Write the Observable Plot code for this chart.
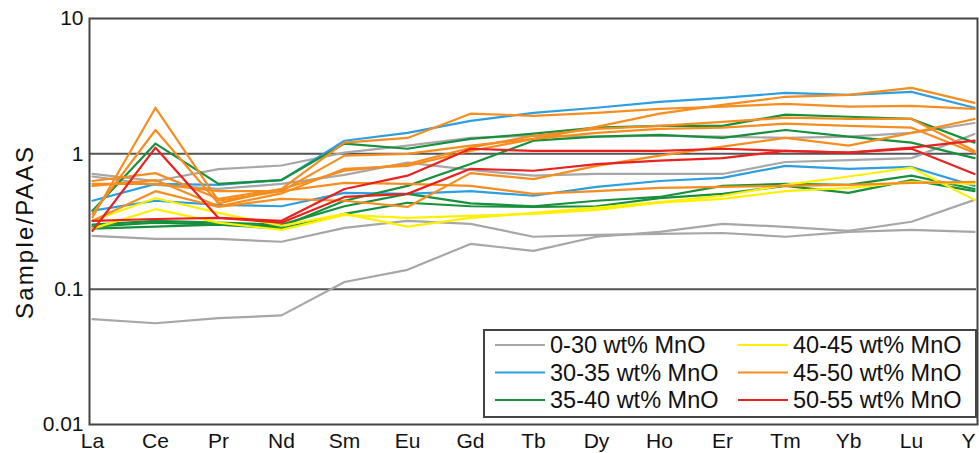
<!DOCTYPE html>
<html><head><meta charset="utf-8">
<script src="https://cdn.jsdelivr.net/npm/d3@7"></script>
<script src="https://cdn.jsdelivr.net/npm/@observablehq/plot@0.6"></script>
<style>body{margin:0;background:#fff;} svg{display:block;}</style>
</head><body><div id="chart"></div>
<script>
const elements = ["La","Ce","Pr","Nd","Sm","Eu","Gd","Tb","Dy","Ho","Er","Tm","Yb","Lu","Y"];
const groupLabels = ["0-30 wt% MnO","30-35 wt% MnO","35-40 wt% MnO","40-45 wt% MnO","45-50 wt% MnO","50-55 wt% MnO"];
const groupColors = ["#a7a7a7","#2c9fe0","#17903b","#fff000","#f68d1f","#e9211f"];
const yTicks = [0.01, 0.1, 1, 10];
const gridValues = [0.1, 1];
const yLabel = "Sample/PAAS";

// 0-30 wt% MnO
const gray1 = [0.060,0.056,0.061,0.064,0.113,0.139,0.216,0.192,0.244,0.265,0.304,0.289,0.270,0.315,0.457];
const gray2 = [0.248,0.235,0.235,0.224,0.284,0.320,0.304,0.244,0.252,0.256,0.260,0.244,0.265,0.274,0.265];
const gray3 = [0.71,0.63,0.77,0.82,1.02,1.15,1.31,1.36,1.34,1.36,1.34,1.31,1.34,1.43,1.69];
const gray4 = [0.68,0.59,0.55,0.60,0.70,0.86,0.76,0.69,0.71,0.71,0.71,0.87,0.90,0.93,1.40];
// 30-35 wt% MnO
const blue1 = [0.45,0.60,0.59,0.64,1.25,1.43,1.75,2.01,2.19,2.42,2.59,2.82,2.73,2.87,2.19];
const blue2 = [0.38,0.45,0.42,0.41,0.515,0.506,0.53,0.49,0.57,0.63,0.665,0.815,0.775,0.80,0.58];
// 35-40 wt% MnO
const green1 = [0.38,1.19,0.60,0.64,1.19,1.09,1.29,1.41,1.56,1.61,1.61,1.95,1.88,1.81,1.21];
const green2 = [0.29,0.31,0.30,0.29,0.45,0.58,0.84,1.25,1.34,1.38,1.31,1.50,1.34,1.21,0.93];
const green3 = [0.30,0.32,0.31,0.30,0.41,0.506,0.43,0.41,0.45,0.48,0.58,0.60,0.59,0.69,0.55];
const green4 = [0.28,0.29,0.30,0.28,0.36,0.435,0.41,0.405,0.41,0.47,0.506,0.58,0.515,0.64,0.53];
// 40-45 wt% MnO
const yellow1 = [0.32,0.47,0.366,0.294,0.36,0.29,0.336,0.366,0.40,0.44,0.49,0.59,0.68,0.79,0.457];
const yellow2 = [0.28,0.39,0.31,0.274,0.354,0.336,0.348,0.36,0.385,0.435,0.465,0.53,0.56,0.62,0.60];
// 45-50 wt% MnO
const orange1 = [0.34,2.19,0.45,0.53,0.97,1.0,1.15,1.29,1.58,1.98,2.3,2.64,2.73,3.07,2.38];
const orange2 = [0.36,1.5,0.43,0.55,1.21,1.31,1.98,1.91,2.01,2.15,2.23,2.34,2.23,2.26,2.15];
const orange3 = [0.63,0.72,0.465,0.55,0.75,0.84,1.11,1.36,1.53,1.61,1.72,1.85,1.81,1.81,1.05];
const orange4 = [0.58,0.64,0.41,0.51,0.775,0.815,1.05,1.29,1.43,1.53,1.56,1.67,1.61,1.56,1.02];
const orange5 = [0.32,0.53,0.405,0.465,0.45,0.405,0.72,0.65,0.815,0.97,1.13,1.31,1.15,1.43,1.81];
const orange6 = [0.60,0.60,0.53,0.53,0.61,0.60,0.58,0.506,0.53,0.56,0.57,0.58,0.59,0.61,0.62];
// 50-55 wt% MnO
const red1 = [0.27,1.11,0.336,0.32,0.55,0.69,1.09,1.05,1.05,1.05,1.09,1.05,1.02,1.11,1.25];
const red2 = [0.32,0.33,0.336,0.31,0.48,0.506,0.775,0.75,0.84,0.89,0.93,1.05,1.02,1.09,0.71];

const samples = [
  [0, gray1],[0, gray2],[0, gray3],[0, gray4],
  [1, blue1],[1, blue2],
  [2, green1],[2, green2],[2, green3],[2, green4],
  [3, yellow1],[3, yellow2],
  [4, orange1],[4, orange2],[4, orange3],[4, orange4],[4, orange5],[4, orange6],
  [5, red1],[5, red2]
];
const rows = samples.flatMap(([g, vals], i) =>
  vals.map((v, j) => ({id: i, group: groupLabels[g], element: elements[j], value: v})));

const plot = Plot.plot({
  width: 979, height: 453,
  marginLeft: 90, marginRight: 3, marginTop: 18, marginBottom: 29,
  style: {fontFamily: "'Liberation Sans', Arial, sans-serif", fontSize: "21px", color: "#111", background: "white"},
  x: {type: "point", domain: elements, padding: 0, label: null, tickSize: 0, tickPadding: 9},
  y: {type: "log", domain: [0.01, 10], ticks: yTicks, tickFormat: d => String(d), tickSize: 0, tickPadding: 7, label: null},
  color: {domain: groupLabels, range: groupColors},
  marks: [
    Plot.ruleY(gridValues, {stroke: "#555", strokeWidth: 2}),
    Plot.line(rows, {x: "element", y: "value", z: "id", stroke: "group", strokeWidth: 2.2}),
    Plot.frame({stroke: "#444", strokeWidth: 2, insetLeft: -1, insetRight: -1})
  ]
});
document.getElementById("chart").appendChild(plot);

const svg = d3.select(plot);
// keep the last element label ("Y") inside the picture, as in the reference
const xLabels = svg.selectAll('g[aria-label="x-axis tick label"] text').nodes();
if (xLabels.length) {
  const last = d3.select(xLabels[xLabels.length - 1]);
  const tr = last.attr("transform") || "";
  last.attr("transform", tr + " translate(-6,0)");
}

svg.append("text")
  .attr("transform", "translate(33,233) rotate(-90)")
  .attr("text-anchor", "middle")
  .attr("font-size", 24)
  .attr("fill", "#111")
  .attr("textLength", 172)
  .text(yLabel);

// legend
const lg = svg.append("g").attr("font-size", 23.5).attr("fill", "#111").attr("text-anchor", "start");
lg.append("rect").attr("x", 484).attr("y", 330).attr("width", 492).attr("height", 87)
  .attr("fill", "white").attr("stroke", "#444").attr("stroke-width", 2);
groupLabels.forEach((lab, i) => {
  const col = Math.floor(i / 3), row = i % 3;
  const x0 = col === 0 ? 495 : 738;
  const yc = 345 + row * 27.5;
  lg.append("line").attr("x1", x0).attr("x2", x0 + 50).attr("y1", yc).attr("y2", yc)
    .attr("stroke", groupColors[i]).attr("stroke-width", 2.2);
  lg.append("text").attr("x", x0 + 55).attr("y", yc).attr("dy", "0.36em")
    .attr("text-anchor", "start").text(lab);
});
</script>
</body></html>
